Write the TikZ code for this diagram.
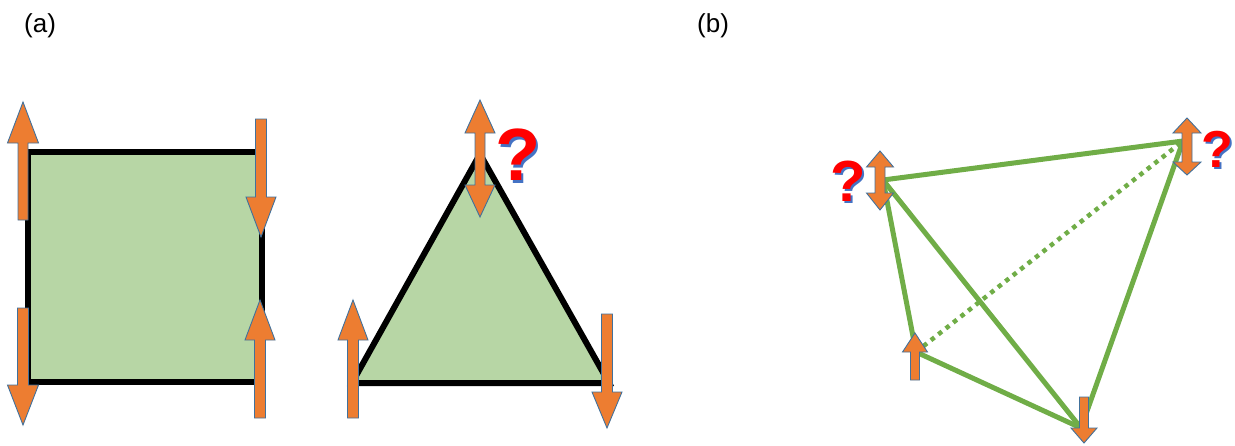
\documentclass[tikz,border=0pt]{standalone}
\usepackage{fontspec}
\setmainfont{Liberation Sans}
\definecolor{sqfill}{HTML}{B7D6A5}
\definecolor{arrorange}{HTML}{ED7D31}
\definecolor{arredge}{HTML}{41719C}
\definecolor{edgegreen}{HTML}{70AD47}
\definecolor{qred}{HTML}{FF0000}
\definecolor{qblue}{HTML}{4472C4}
\tikzset{
  arr/.style={fill=arrorange, draw=arredge, line width=0.9pt, line join=miter},
  shapeline/.style={draw=black, fill=sqfill, line width=6pt, line join=miter},
  edge/.style={draw=edgegreen, line width=5pt},
  dotedge/.style={draw=edgegreen, line width=4.5pt, dash pattern=on 4.5pt off 5pt},
  lbl/.style={font=\fontsize{26}{30}\selectfont, inner sep=0pt, anchor=base west},
}
% single arrow: x, tip, head base, tail, head half width, shaft half width
\newcommand\sarr[6]{\draw[arr] (#1-#6,#4) -- (#1-#6,#3) -- (#1-#5,#3) -- (#1,#2) -- (#1+#5,#3) -- (#1+#6,#3) -- (#1+#6,#4) -- cycle;}
% double arrow: x, tip1, base1, base2, tip2, head half width, shaft half width
\newcommand\darr[7]{\draw[arr] (#1,#2) -- (#1+#6,#3) -- (#1+#7,#3) -- (#1+#7,#4) -- (#1+#6,#4) -- (#1,#5) -- (#1-#6,#4) -- (#1-#7,#4) -- (#1-#7,#3) -- (#1-#6,#3) -- cycle;}
% question mark: name, x, y, size
\newcommand\qmark[4]{%
  \node[inner sep=0pt, text=qblue, font=\fontsize{#4}{#4}\selectfont\bfseries] at (#2+2.2,#3+2.2) {?};
  \node[inner sep=0pt, text=qred, font=\fontsize{#4}{#4}\selectfont\bfseries] (#1) at (#2,#3) {?};}
\begin{document}
\begin{tikzpicture}[x=1pt,y=-1pt]
\useasboundingbox (0,0) rectangle (1235,445);
% labels
\node[lbl] (la) at (24,32) {(a)};
\node[lbl] (lb) at (697,32) {(b)};
% square
\draw[shapeline] (28,152) rectangle (262,382);
\sarr{23}{102}{143}{220}{15.5}{5}
\sarr{261}{237}{197}{119}{15}{5.5}
\sarr{23}{425}{385}{308}{15.5}{5.5}
\sarr{260}{300}{340}{418}{15}{5.5}
% triangle
\draw[shapeline] (352,383) -- (480,154) -- (609,383) -- cycle;
\darr{480}{100}{133}{185}{217}{15}{5}
\sarr{353}{300}{340}{418}{15}{5.5}
\sarr{607}{428}{392}{314}{15}{5.5}
\qmark{qa}{518}{155}{74}
% tetrahedron (b)
\coordinate (A) at (883,180);
\coordinate (B) at (1183,141);
\coordinate (C) at (916,352);
\coordinate (D) at (1081,428);
\draw[dotedge] (C) -- (B);
\draw[edge] (A) -- (B);
\draw[edge] (A) -- (C);
\draw[edge] (A) -- (D);
\draw[edge] (B) -- (D);
\draw[edge] (C) -- (D);
\darr{880}{151}{167}{193}{210}{13.5}{5}
\darr{1187}{118}{133}{162}{175}{14}{5}
\sarr{915}{333}{352}{380}{12.5}{4.5}
\sarr{1084}{443}{428}{397}{13}{4.5}
\qmark{qb}{848}{181}{58}
\qmark{qc}{1217}{149}{52}
\end{tikzpicture}
\end{document}
